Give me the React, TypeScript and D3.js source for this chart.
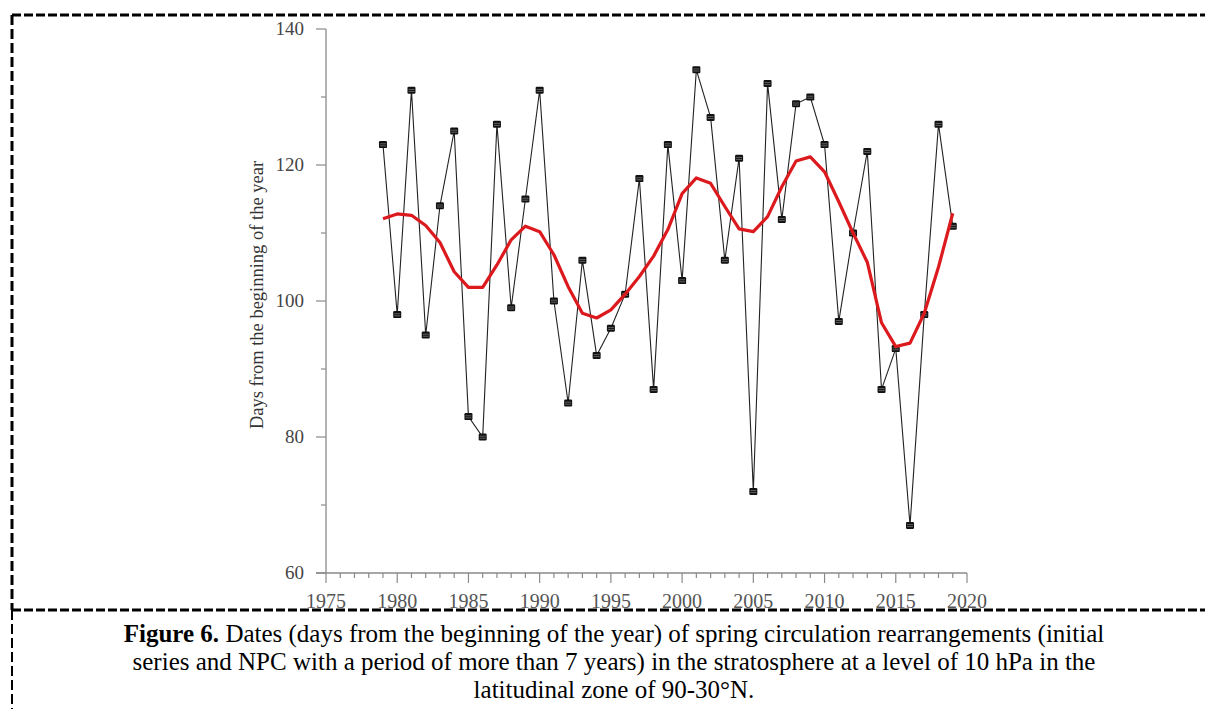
import React from "react";
import * as d3 from "d3";

const years = d3.range(1979, 2020);
const initialSeries = [
  123, 98, 131, 95, 114, 125, 83, 80, 126, 99, 115, 131, 100, 85, 106, 92, 96, 101, 118, 87, 123,
  103, 134, 127, 106, 121, 72, 132, 112, 129, 130, 123, 97, 110, 122, 87, 93, 67, 98, 126, 111,
];
const npcSeries = [
  112.1, 112.8, 112.6, 111.1, 108.6, 104.3, 102.0, 102.0, 105.3, 109.0, 111.0, 110.2, 106.8, 102.1,
  98.2, 97.5, 98.7, 101.0, 103.6, 106.6, 110.5, 115.8, 118.1, 117.3, 113.9, 110.6, 110.2, 112.4,
  116.8, 120.6, 121.2, 119.0, 114.6, 110.0, 105.7, 96.8, 93.3, 93.8, 98.2, 105.0, 112.9,
];
const xTicks = [1975, 1980, 1985, 1990, 1995, 2000, 2005, 2010, 2015, 2020];
const yTicks = [60, 80, 100, 120, 140];
const yLabel = "Days from the beginning of the year";
const captionLines = [
  ["Figure 6.", " Dates (days from the beginning of the year) of spring circulation rearrangements (initial"],
  ["", "series and NPC with a period of more than 7 years) in the stratosphere at a level of 10 hPa in the"],
  ["", "latitudinal zone of 90-30°N."],
];

export default function App() {
  const x = d3.scaleLinear().domain([1975, 2020]).range([326, 967]);
  const y = d3.scaleLinear().domain([60, 140]).range([573, 29]);
  const axisColor = "#8a8a8a";
  const serif = "'Liberation Serif', 'Times New Roman', serif";

  const rawLine = d3
    .line<number>()
    .x((_, i) => x(years[i]))
    .y((d) => y(d))(initialSeries) as string;
  const npcLine = d3
    .line<number>()
    .x((_, i) => x(years[i]))
    .y((d) => y(d))(npcSeries) as string;

  const minorX = d3.range(1975, 2021);
  const minorY = d3.range(60, 141, 10);

  return (
    <svg
      width={1205}
      height={709}
      style={{ position: "absolute", left: 0, top: 0, background: "#fff" }}
      fontFamily={serif}
    >
      {/* dashed frame */}
      <line x1={12} x2={1205} y1={15} y2={15} stroke="#000" strokeWidth={3} strokeDasharray="9,3" />
      <line x1={12} x2={12} y1={15} y2={610} stroke="#000" strokeWidth={3} strokeDasharray="10,4" />
      <line x1={12} x2={12} y1={610} y2={709} stroke="#000" strokeWidth={2} strokeDasharray="10,4" />
      <line x1={12} x2={1205} y1={610} y2={610} stroke="#000" strokeWidth={3} strokeDasharray="9,3" />

      {/* y axis */}
      <line x1={x(1975)} x2={x(1975)} y1={y(140)} y2={y(60)} stroke={axisColor} strokeWidth={1.3} />
      {minorY.map((v) => (
        <line
          key={"ym" + v}
          x1={x(1975) - (v % 20 === 0 ? 10 : 5)}
          x2={x(1975)}
          y1={y(v)}
          y2={y(v)}
          stroke={axisColor}
          strokeWidth={1.2}
        />
      ))}
      {yTicks.map((v) => (
        <text
          key={"yl" + v}
          x={x(1975) - 22}
          y={y(v)}
          dy="0.33em"
          textAnchor="end"
          fontSize={19}
          fill="#444"
        >
          {v}
        </text>
      ))}
      <text
        transform={`translate(263, ${y(100) - 6}) rotate(-90)`}
        textAnchor="middle"
        fontSize={18.5}
        fill="#333"
      >
        {yLabel}
      </text>

      {/* x axis */}
      <line x1={x(1975) - 10} x2={x(2020)} y1={y(60)} y2={y(60)} stroke={axisColor} strokeWidth={1.3} />
      {minorX.map((v) => (
        <line
          key={"xm" + v}
          x1={x(v)}
          x2={x(v)}
          y1={y(60)}
          y2={y(60) + (v % 5 === 0 ? 10 : 5)}
          stroke={axisColor}
          strokeWidth={1.2}
        />
      ))}
      {xTicks.map((v) => (
        <text key={"xl" + v} x={x(v)} y={608} textAnchor="middle" fontSize={20} fill="#555">
          {v}
        </text>
      ))}

      {/* initial series */}
      <path d={rawLine} fill="none" stroke="#222" strokeWidth={1.1} />
      {initialSeries.map((v, i) => (
        <g key={"m" + i} transform={`translate(${x(years[i])}, ${y(v)})`}>
          <rect x={-4} y={-3.5} width={8} height={7} rx={1.2} fill="#111" />
          <line x1={-3} x2={3} y1={-0.8} y2={-0.8} stroke="#999" strokeWidth={0.6} />
          <line x1={-3} x2={3} y1={1.2} y2={1.2} stroke="#999" strokeWidth={0.6} />
        </g>
      ))}

      {/* NPC smooth */}
      <path d={npcLine} fill="none" stroke="#dc1a1e" strokeWidth={3.2} strokeLinejoin="round" />

      {/* caption */}
      {captionLines.map((ln, i) => (
        <text key={"c" + i} x={614} y={642 + i * 28} textAnchor="middle" fontSize={25} fill="#000">
          {ln[0] ? <tspan fontWeight="bold">{ln[0]}</tspan> : null}
          <tspan>{ln[1]}</tspan>
        </text>
      ))}
    </svg>
  );
}
